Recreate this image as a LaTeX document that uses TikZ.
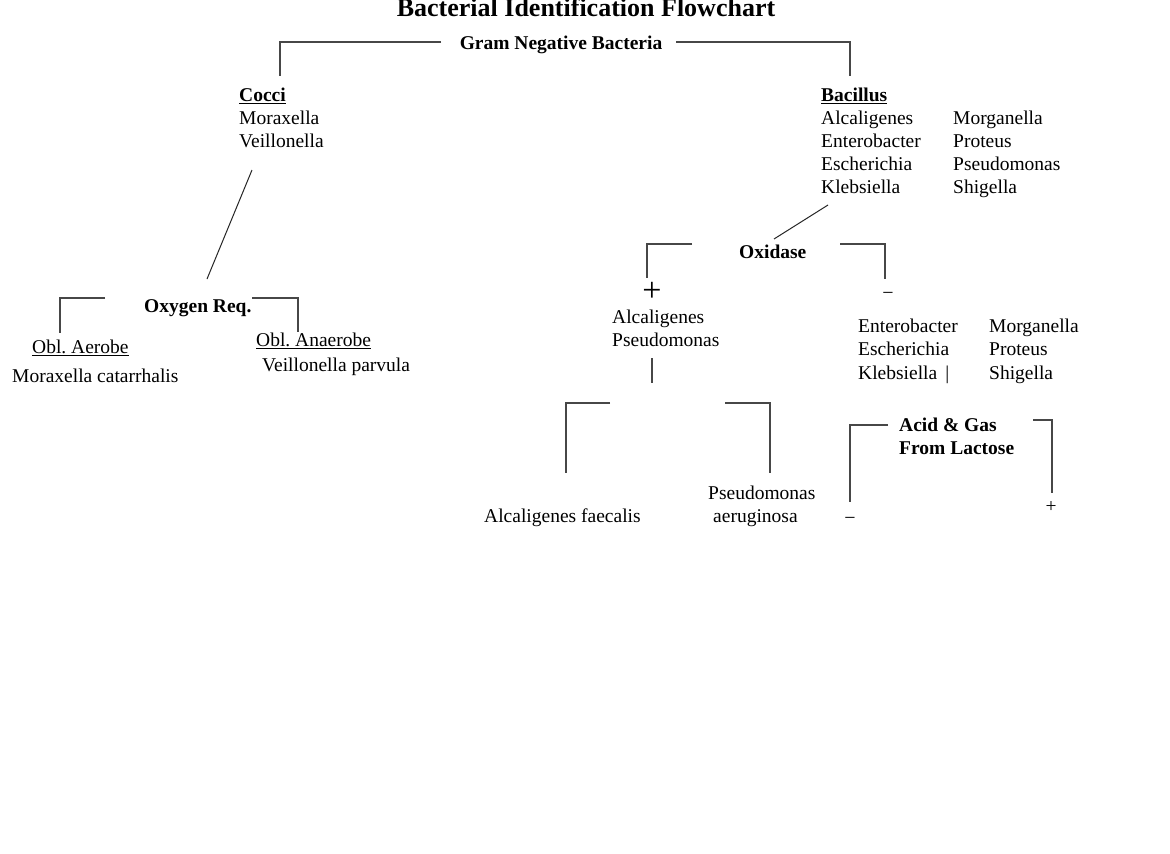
\documentclass[tikz,border=0pt]{standalone}
\usepackage{fontspec}
\setmainfont{Liberation Serif}
\frenchspacing
\newcommand\myul[1]{\setbox0\hbox{#1}\rlap{\rule[-2.6pt]{\wd0}{1pt}}\box0}
\begin{document}
\begin{tikzpicture}[x=1pt,y=-1pt,
  txt/.style={inner sep=0pt, anchor=base west, font=\fontsize{19.5}{23}\selectfont},
  btxt/.style={inner sep=0pt, anchor=base west, font=\fontsize{19.5}{23}\selectfont\bfseries},
  sign/.style={inner sep=0pt, anchor=center},
  link/.style={line width=1.2pt, draw=black!72},
  slant/.style={line width=1pt, draw=black!85},
]
\useasboundingbox[fill=white] (0,0) rectangle (1170,854);

% title and root
\node[inner sep=0pt, anchor=base, font=\fontsize{26}{30}\selectfont\bfseries] (title) at (586,16) {Bacterial Identification Flowchart};
\node[btxt, anchor=base] (gram) at (561,49) {Gram Negative Bacteria};
\coordinate (gramL) at (441,42);
\coordinate (gramR) at (676,42);
\coordinate (cocciTop) at (280,76);
\coordinate (bacTop) at (850,76);
\draw[link] (gramL) -| (cocciTop);
\draw[link] (gramR) -| (bacTop);

% Cocci branch
\node[btxt] (cocci) at (239,101) {\myul{Cocci}};
\node[txt] (mor) at (239,124) {Moraxella};
\node[txt] (vei) at (239,147) {Veillonella};
\coordinate (cocciBot) at (252,170);
\coordinate (oxyTop) at (207,279);
\draw[slant] (cocciBot) -- (oxyTop);

\node[btxt] (oxy) at (144,312) {Oxygen Req.};
\coordinate (oxyL) at (105,298);
\coordinate (aerTop) at (60,333);
\coordinate (oxyR) at (252,298);
\coordinate (anaTop) at (298,332);
\draw[link] (oxyL) -| (aerTop);
\draw[link] (oxyR) -| (anaTop);

\node[txt] (aer) at (32,353) {\myul{Obl. Aerobe}};
\node[txt] (morcat) at (12,382) {Moraxella catarrhalis};
\node[txt] (ana) at (256,346) {\myul{Obl. Anaerobe}};
\node[txt] (veipar) at (262,371) {Veillonella parvula};

% Bacillus branch
\node[btxt] (bac) at (821,101) {\myul{Bacillus}};
\node[txt] (b1) at (821,124) {Alcaligenes};
\node[txt] (b2) at (821,147) {Enterobacter};
\node[txt] (b3) at (821,170) {Escherichia};
\node[txt] (b4) at (821,193) {Klebsiella};
\node[txt] (b5) at (953,124) {Morganella};
\node[txt] (b6) at (953,147) {Proteus};
\node[txt] (b7) at (953,170) {Pseudomonas};
\node[txt] (b8) at (953,193) {Shigella};
\coordinate (bacBot) at (828,205);
\coordinate (oxiTop) at (774,239);
\draw[slant] (bacBot) -- (oxiTop);

\node[btxt] (oxi) at (739,258) {Oxidase};
\coordinate (oxiL) at (692,244);
\coordinate (posTop) at (647,278);
\coordinate (oxiR) at (840,244);
\coordinate (negTop) at (885,279);
\draw[link] (oxiL) -| (posTop);
\draw[link] (oxiR) -| (negTop);

\node[sign, font=\fontsize{34}{34}\selectfont] (pos) at (652,292) {+};
\node[sign, font=\fontsize{20}{20}\selectfont] (neg) at (888,296) {−};

\node[txt] (p1) at (612,323) {Alcaligenes};
\node[txt] (p2) at (612,346) {Pseudomonas};
\coordinate (posStemTop) at (652,358);
\coordinate (posStemBot) at (652,383);
\draw[link] (posStemTop) -- (posStemBot);

\node[txt] (n1) at (858,332) {Enterobacter};
\node[txt] (n2) at (858,355) {Escherichia};
\node[txt] (n3) at (858,379) {Klebsiella \,|};
\node[txt] (n4) at (989,332) {Morganella};
\node[txt] (n5) at (989,355) {Proteus};
\node[txt] (n6) at (989,379) {Shigella};

% positive split
\coordinate (sL) at (610,403);
\coordinate (afTop) at (566,473);
\coordinate (sR) at (725,403);
\coordinate (paTop) at (770,473);
\draw[link] (sL) -| (afTop);
\draw[link] (sR) -| (paTop);
\node[txt] (af) at (484,522) {Alcaligenes faecalis};
\node[txt] (pa1) at (708,499) {Pseudomonas};
\node[txt] (pa2) at (713,522) {aeruginosa};

% lactose
\node[btxt] (ag1) at (899,431) {Acid \& Gas};
\node[btxt] (ag2) at (899,454) {From Lactose};
\coordinate (agL) at (888,425);
\coordinate (lnTop) at (850,502);
\coordinate (agR) at (1033,420);
\coordinate (lpTop) at (1052,493);
\draw[link] (agL) -| (lnTop);
\draw[link] (agR) -| (lpTop);
\node[sign, font=\fontsize{20}{20}\selectfont] (lneg) at (850,521) {−};
\node[sign, font=\fontsize{19.5}{20}\selectfont] (lpos) at (1051,507) {+};
\end{tikzpicture}
\end{document}
